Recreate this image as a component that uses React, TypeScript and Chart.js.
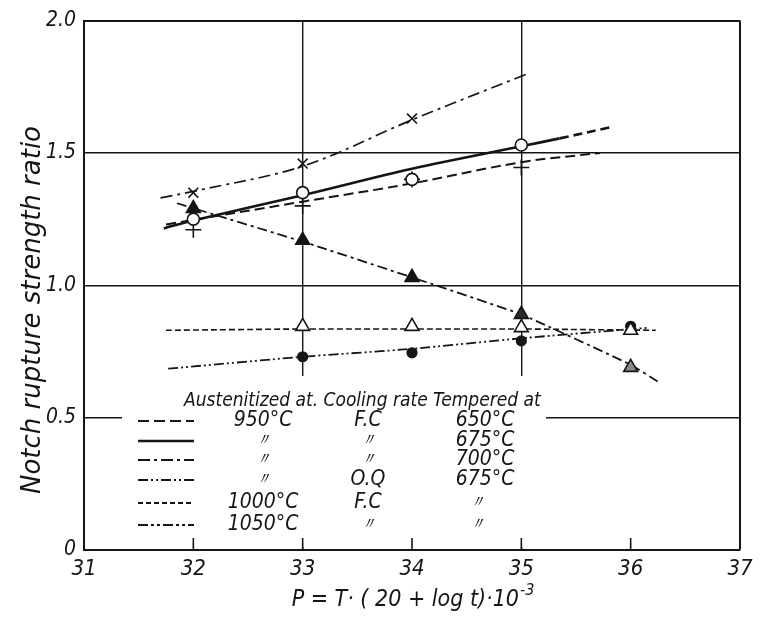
import React, { useEffect, useRef } from 'react';
import { Chart, registerables } from 'chart.js';

Chart.register(...registerables);

const FONT = "'Liberation Sans Narrow', 'DejaVu Sans Condensed', 'Liberation Sans', sans-serif";
const INK = '#151515';

// ---- axes ----
const X_MIN = 31;
const X_MAX = 37;
const Y_MIN = 0;
const Y_MAX = 2.0;
const X_TICK_VALUES = [31, 32, 33, 34, 35, 36, 37];
const X_TICK_LABELS = ['31', '32', '33', '34', '35', '36', '37'];
const Y_TICK_VALUES = [0, 0.5, 1.0, 1.5, 2.0];
const Y_TICK_LABELS = ['0', '0.5', '1.0', '1.5', '2.0'];
const X_GRID_FULL = [33, 35, 37];
const X_INNER_TICKS = [32, 33, 34, 35, 36];
const X_TITLE = 'P = T· ( 20 + log t)·10';
const X_TITLE_SUP = '-3';
const Y_TITLE = 'Notch rupture strength ratio';

// ---- series: × ----
const crossP = [32, 33, 34];
const crossR = [1.35, 1.46, 1.63];
const crossLineP = [31.7, 32, 33, 34, 35.06];
const crossLineR = [1.33, 1.355, 1.45, 1.625, 1.8];

// ---- series: ○ (solid) ----
const ringP = [32, 33, 34, 35];
const ringR = [1.25, 1.35, 1.4, 1.53];
const ringLineP = [31.73, 32, 33, 34, 35, 35.35, 35.85];
const ringLineR = [1.215, 1.245, 1.34, 1.44, 1.525, 1.555, 1.6];

// ---- series: + ----
const plusP = [32, 33, 34, 35];
const plusR = [1.21, 1.3, 1.4, 1.445];
const plusLineP = [31.75, 33, 34, 35, 35.72];
const plusLineR = [1.23, 1.316, 1.385, 1.465, 1.5];

// ---- series: ▲ ----
const triFillP = [32, 33, 34, 35, 36];
const triFillR = [1.29, 1.17, 1.03, 0.89, 0.69];
const triFillLineP = [31.85, 33, 34, 35, 36, 36.27];
const triFillLineR = [1.31, 1.165, 1.03, 0.89, 0.7, 0.63];

// ---- series: △ ----
const triOpenP = [33, 34, 35, 36];
const triOpenR = [0.845, 0.845, 0.84, 0.83];
const triOpenLineP = [31.75, 33, 34, 35, 36.23];
const triOpenLineR = [0.83, 0.835, 0.835, 0.835, 0.83];

// ---- series: ● ----
const dotP = [33, 34, 35, 36];
const dotR = [0.73, 0.745, 0.79, 0.845];
const dotLineP = [31.77, 33, 34, 35, 36.17];
const dotLineR = [0.685, 0.73, 0.76, 0.8, 0.84];

// ---- legend table ----
const LEGEND_HEADER = 'Austenitized at. Cooling rate Tempered at';
const legendAust = ['950°C', '〃', '〃', '〃', '1000°C', '1050°C'];
const legendCool = ['F.C', '〃', '〃', 'O.Q', 'F.C', '〃'];
const legendTemp = ['650°C', '675°C', '700°C', '675°C', '〃', '〃'];

const pts = (xs: number[], ys: number[]) => xs.map((x, i) => ({ x, y: ys[i] }));

const lineDs = (xs: number[], ys: number[], dash: number[], width = 1.7, extra: any = {}) => ({
  data: pts(xs, ys),
  showLine: true,
  borderColor: INK,
  borderWidth: width,
  borderDash: dash,
  pointRadius: 0,
  tension: 0.35,
  fill: false,
  order: 2,
  ...extra,
});

const markDs = (xs: number[], ys: number[], style: string, radius: number, bg: any, borderWidth = 1.6) => ({
  data: pts(xs, ys),
  showLine: false,
  pointStyle: style,
  pointRadius: radius,
  pointBorderColor: INK,
  pointBackgroundColor: bg,
  pointBorderWidth: borderWidth,
  borderColor: INK,
  backgroundColor: bg,
  order: 1,
});

const LEGEND_DASHES: number[][] = [
  [11, 5],
  [],
  [12, 4, 3, 4],
  [10, 3, 2, 3, 2, 3],
  [5, 3],
  [10, 3, 3, 3, 3, 3],
];

const decorPlugin = {
  id: 'decor',
  afterDatasetsDraw(chart: any) {
    const ctx = chart.ctx as CanvasRenderingContext2D;
    const xs = chart.scales.x;
    const ca = chart.chartArea;
    ctx.save();

    // legend block (white background breaks the grid lines)
    const boxL = 122;
    const boxT = 376;
    ctx.fillStyle = '#ffffff';
    ctx.fillRect(boxL, boxT, 546 - boxL, ca.bottom - 3 - boxT);

    ctx.fillStyle = INK;
    ctx.strokeStyle = INK;
    ctx.textBaseline = 'middle';
    ctx.font = `italic 19px ${FONT}`;
    ctx.textAlign = 'left';
    ctx.fillText(LEGEND_HEADER, 184, 401);

    const rowY = [421, 441, 460, 480, 503, 525];
    const cellFont = (s: string) => (s === '〃' ? `italic 17px ${FONT}` : `italic 21px ${FONT}`);
    legendAust.forEach((_, i) => {
      const y = rowY[i];
      ctx.beginPath();
      ctx.setLineDash(LEGEND_DASHES[i]);
      ctx.lineWidth = i === 1 ? 2.6 : 1.8;
      ctx.moveTo(138, y);
      ctx.lineTo(194, y);
      ctx.stroke();
      ctx.setLineDash([]);
      ctx.textAlign = 'center';
      const a = legendAust[i];
      const c = legendCool[i];
      const t = legendTemp[i];
      ctx.font = cellFont(a);
      ctx.fillText(a, 263, y);
      ctx.font = cellFont(c);
      ctx.fillText(c, 368, y);
      ctx.font = cellFont(t);
      ctx.fillText(t, t === '〃' ? 477 : 485, y);
    });

    // inward tick marks on the bottom axis
    ctx.lineWidth = 1.6;
    ctx.setLineDash([]);
    X_INNER_TICKS.forEach((v) => {
      const px = xs.getPixelForValue(v);
      ctx.beginPath();
      ctx.moveTo(px, ca.bottom);
      ctx.lineTo(px, ca.bottom - 12);
      ctx.stroke();
    });

    // axis titles
    ctx.fillStyle = INK;
    ctx.textBaseline = 'middle';
    ctx.textAlign = 'center';
    ctx.font = `italic 26px ${FONT}`;
    ctx.save();
    ctx.translate(33, 310);
    ctx.rotate(-Math.PI / 2);
    const wy = ctx.measureText(Y_TITLE).width;
    ctx.scale(368 / wy, 1);
    ctx.fillText(Y_TITLE, 0, 0);
    ctx.restore();

    ctx.font = `italic 23px ${FONT}`;
    const wMain = ctx.measureText(X_TITLE).width;
    ctx.font = `italic 16px ${FONT}`;
    const wSup = ctx.measureText(X_TITLE_SUP).width;
    const total = wMain + wSup + 1;
    const startX = 413 - total / 2;
    ctx.textAlign = 'left';
    ctx.font = `italic 23px ${FONT}`;
    ctx.fillText(X_TITLE, startX, 600);
    ctx.font = `italic 16px ${FONT}`;
    ctx.fillText(X_TITLE_SUP, startX + wMain + 1, 591);

    ctx.restore();
  },
};

export default function App() {
  const ref = useRef<HTMLCanvasElement | null>(null);

  useEffect(() => {
    if (!ref.current) return;
    const datasets: any[] = [
      markDs(crossP, crossR, 'crossRot', 7, INK, 1.6),
      markDs(ringP, ringR, 'circle', 6, '#ffffff', 1.6),
      markDs(plusP, plusR, 'cross', 8, INK, 1.6),
      markDs(triFillP, triFillR, 'triangle', 8, [INK, INK, INK, '#2a2a2a', '#8a8a8a'], 1.6),
      markDs(triOpenP, triOpenR, 'triangle', 8, '#ffffff', 1.6),
      markDs(dotP, dotR, 'circle', 5, INK, 1.2),
      lineDs(crossLineP, crossLineR, [12, 5, 3, 5]),
      lineDs(ringLineP, ringLineR, [], 2.6, {
        segment: {
          borderDash: (c: any) => (c.p0.parsed.x >= 35.3 ? [9, 5] : undefined),
        },
      }),
      lineDs(plusLineP, plusLineR, [10, 5], 2.0),
      lineDs(triFillLineP, triFillLineR, [10, 4, 3, 4], 1.8, { tension: 0.1 }),
      lineDs(triOpenLineP, triOpenLineR, [6, 3], 1.6, { tension: 0.1 }),
      lineDs(dotLineP, dotLineR, [10, 3, 2, 3, 2, 3], 1.8, { tension: 0.2 }),
    ];

    const chart = new Chart(ref.current, {
      type: 'line',
      data: { datasets },
      options: {
        animation: false,
        responsive: false,
        devicePixelRatio: 1,
        layout: { padding: { top: 17, right: 23, left: 0, bottom: 0 } },
        plugins: {
          legend: { display: false },
          tooltip: { enabled: false },
        },
        scales: {
          x: {
            type: 'linear',
            min: X_MIN,
            max: X_MAX,
            afterBuildTicks: (s: any) => {
              s.ticks = X_TICK_VALUES.map((v) => ({ value: v }));
            },
            afterFit: (s: any) => {
              s.height = 74;
            },
            grid: {
              drawTicks: false,
              color: (c: any) => (X_GRID_FULL.includes(c.tick?.value) ? INK : 'rgba(0,0,0,0)'),
              lineWidth: (c: any) => (c.tick?.value === X_MAX ? 2 : 1.4),
            },
            border: { color: INK, width: 2 },
            ticks: {
              padding: 6,
              color: INK,
              autoSkip: false,
              maxRotation: 0,
              font: { family: FONT, size: 22, style: 'italic' },
              callback: (v: any) => {
                const i = X_TICK_VALUES.indexOf(Number(v));
                return i >= 0 ? X_TICK_LABELS[i] : '';
              },
            },
          },
          y: {
            type: 'linear',
            min: Y_MIN,
            max: Y_MAX,
            afterBuildTicks: (s: any) => {
              s.ticks = Y_TICK_VALUES.map((v) => ({ value: v }));
            },
            afterFit: (s: any) => {
              s.width = 84;
            },
            grid: {
              drawTicks: false,
              color: (c: any) => (c.tick?.value > 0 ? INK : 'rgba(0,0,0,0)'),
              lineWidth: (c: any) => (c.tick?.value === Y_MAX ? 2 : 1.4),
            },
            border: { color: INK, width: 2 },
            ticks: {
              padding: 8,
              color: INK,
              autoSkip: false,
              font: { family: FONT, size: 21, style: 'italic' },
              callback: (v: any) => {
                const i = Y_TICK_VALUES.indexOf(Number(v));
                return i >= 0 ? Y_TICK_LABELS[i] : '';
              },
            },
          },
        },
      },
      plugins: [decorPlugin],
    });
    return () => chart.destroy();
  }, []);

  return (
    <div style={{ position: 'fixed', left: 0, top: 0, width: 763, height: 624, background: '#fff' }}>
      <canvas ref={ref} width={763} height={624} style={{ display: 'block' }} />
    </div>
  );
}
